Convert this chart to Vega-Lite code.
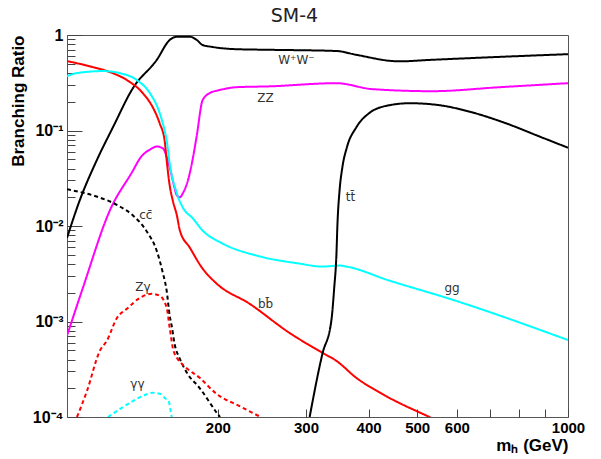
{
  "$schema": "https://vega.github.io/schema/vega-lite/v6.json",
  "autosize": {"type": "none"},
  "padding": {"left": 67, "top": 35, "right": 33, "bottom": 42},
  "width": 501,
  "height": 382,
  "background": "white",
  "title": {"text": "SM-4", "font": "DejaVu Sans", "fontSize": 19, "fontWeight": "normal", "anchor": "middle", "frame": "group", "dx": -23, "offset": 1, "color": "#222"},
  "config": {"view": {"stroke": "#555", "strokeWidth": 1}},
  "datasets": {
    "curves": [
      {"p": "WW", "m": 100, "br": 0.0075}, {"p": "WW", "m": 106, "br": 0.0185}, {"p": "WW", "m": 114.7, "br": 0.049}, {"p": "WW", "m": 123.5, "br": 0.108}, {"p": "WW", "m": 135.4, "br": 0.278}, {"p": "WW", "m": 151, "br": 0.547}, {"p": "WW", "m": 160.3, "br": 0.886}, {"p": "WW", "m": 165.7, "br": 0.96}, {"p": "WW", "m": 175.8, "br": 0.96}, {"p": "WW", "m": 181.6, "br": 0.886}, {"p": "WW", "m": 186.5, "br": 0.785}, {"p": "WW", "m": 195, "br": 0.75}, {"p": "WW", "m": 218, "br": 0.71}, {"p": "WW", "m": 254, "br": 0.70}, {"p": "WW", "m": 345, "br": 0.68}, {"p": "WW", "m": 378, "br": 0.62}, {"p": "WW", "m": 460, "br": 0.53}, {"p": "WW", "m": 536, "br": 0.55}, {"p": "WW", "m": 730, "br": 0.59}, {"p": "WW", "m": 1000, "br": 0.63},
      {"p": "ZZ", "m": 100, "br": 0.00071}, {"p": "ZZ", "m": 107.6, "br": 0.00226}, {"p": "ZZ", "m": 121.8, "br": 0.0146}, {"p": "ZZ", "m": 135.4, "br": 0.038}, {"p": "ZZ", "m": 139.8, "br": 0.051}, {"p": "ZZ", "m": 147, "br": 0.064}, {"p": "ZZ", "m": 151, "br": 0.068}, {"p": "ZZ", "m": 155.3, "br": 0.065}, {"p": "ZZ", "m": 160.3, "br": 0.041}, {"p": "ZZ", "m": 163.5, "br": 0.0266}, {"p": "ZZ", "m": 165.7, "br": 0.0209}, {"p": "ZZ", "m": 168, "br": 0.020}, {"p": "ZZ", "m": 170.3, "br": 0.022}, {"p": "ZZ", "m": 175.8, "br": 0.0356}, {"p": "ZZ", "m": 178.3, "br": 0.051}, {"p": "ZZ", "m": 181.6, "br": 0.089}, {"p": "ZZ", "m": 186.5, "br": 0.208}, {"p": "ZZ", "m": 192.6, "br": 0.246}, {"p": "ZZ", "m": 201.6, "br": 0.265}, {"p": "ZZ", "m": 218, "br": 0.284}, {"p": "ZZ", "m": 254, "br": 0.29}, {"p": "ZZ", "m": 345, "br": 0.313}, {"p": "ZZ", "m": 407, "br": 0.271}, {"p": "ZZ", "m": 536, "br": 0.258}, {"p": "ZZ", "m": 730, "br": 0.284}, {"p": "ZZ", "m": 1000, "br": 0.313},
      {"p": "bb", "m": 100, "br": 0.533}, {"p": "bb", "m": 112.7, "br": 0.461}, {"p": "bb", "m": 121.8, "br": 0.409}, {"p": "bb", "m": 131.7, "br": 0.337}, {"p": "bb", "m": 141.7, "br": 0.246}, {"p": "bb", "m": 148.3, "br": 0.175}, {"p": "bb", "m": 153.1, "br": 0.119}, {"p": "bb", "m": 156.6, "br": 0.079}, {"p": "bb", "m": 158.1, "br": 0.0487}, {"p": "bb", "m": 160.3, "br": 0.0266}, {"p": "bb", "m": 162.6, "br": 0.0185}, {"p": "bb", "m": 165.7, "br": 0.0129}, {"p": "bb", "m": 168, "br": 0.00897}, {"p": "bb", "m": 175.8, "br": 0.00595}, {"p": "bb", "m": 186.5, "br": 0.00358}, {"p": "bb", "m": 199, "br": 0.00249}, {"p": "bb", "m": 231.6, "br": 0.00153}, {"p": "bb", "m": 278, "br": 0.00076}, {"p": "bb", "m": 323.5, "br": 0.00047}, {"p": "bb", "m": 345, "br": 0.000387}, {"p": "bb", "m": 378, "br": 0.000257}, {"p": "bb", "m": 426, "br": 0.000174}, {"p": "bb", "m": 529, "br": 0.0001}, {"p": "bb", "m": 545, "br": 0.000093},
      {"p": "gg", "m": 100, "br": 0.371}, {"p": "gg", "m": 104.7, "br": 0.399}, {"p": "gg", "m": 118, "br": 0.419}, {"p": "gg", "m": 127.5, "br": 0.399}, {"p": "gg", "m": 137.9, "br": 0.337}, {"p": "gg", "m": 146.4, "br": 0.246}, {"p": "gg", "m": 153.1, "br": 0.152}, {"p": "gg", "m": 156.6, "br": 0.1}, {"p": "gg", "m": 158.1, "br": 0.079}, {"p": "gg", "m": 160.3, "br": 0.0453}, {"p": "gg", "m": 165.7, "br": 0.0219}, {"p": "gg", "m": 170.3, "br": 0.0156}, {"p": "gg", "m": 178.3, "br": 0.012}, {"p": "gg", "m": 186.5, "br": 0.00897}, {"p": "gg", "m": 204.4, "br": 0.00655}, {"p": "gg", "m": 239, "br": 0.0049}, {"p": "gg", "m": 291, "br": 0.00404}, {"p": "gg", "m": 323.5, "br": 0.00376}, {"p": "gg", "m": 350, "br": 0.00385}, {"p": "gg", "m": 361, "br": 0.00376}, {"p": "gg", "m": 440, "br": 0.00268}, {"p": "gg", "m": 580, "br": 0.00173}, {"p": "gg", "m": 1000, "br": 0.00064},
      {"p": "tt", "m": 305, "br": 0.0001}, {"p": "tt", "m": 323.5, "br": 0.00046}, {"p": "tt", "m": 337, "br": 0.00102}, {"p": "tt", "m": 341.5, "br": 0.00226}, {"p": "tt", "m": 345, "br": 0.0051}, {"p": "tt", "m": 346.5, "br": 0.0101}, {"p": "tt", "m": 350, "br": 0.0236}, {"p": "tt", "m": 354.5, "br": 0.0411}, {"p": "tt", "m": 362, "br": 0.0667}, {"p": "tt", "m": 378, "br": 0.108}, {"p": "tt", "m": 401, "br": 0.152}, {"p": "tt", "m": 440, "br": 0.184}, {"p": "tt", "m": 483, "br": 0.193}, {"p": "tt", "m": 554, "br": 0.184}, {"p": "tt", "m": 643, "br": 0.155}, {"p": "tt", "m": 752, "br": 0.119}, {"p": "tt", "m": 875, "br": 0.087}, {"p": "tt", "m": 1000, "br": 0.066},
      {"p": "cc", "m": 100, "br": 0.0242}, {"p": "cc", "m": 112.7, "br": 0.0209}, {"p": "cc", "m": 127.5, "br": 0.016}, {"p": "cc", "m": 135.4, "br": 0.0129}, {"p": "cc", "m": 144.3, "br": 0.00875}, {"p": "cc", "m": 151, "br": 0.00553}, {"p": "cc", "m": 155.3, "br": 0.00325}, {"p": "cc", "m": 158.1, "br": 0.0021}, {"p": "cc", "m": 160.3, "br": 0.00115}, {"p": "cc", "m": 161.8, "br": 0.0009}, {"p": "cc", "m": 164, "br": 0.00058}, {"p": "cc", "m": 168, "br": 0.000406}, {"p": "cc", "m": 173.5, "br": 0.00029}, {"p": "cc", "m": 184, "br": 0.000201}, {"p": "cc", "m": 200, "br": 0.000107}, {"p": "cc", "m": 202, "br": 0.0001},
      {"p": "Zγ", "m": 104.7, "br": 0.0001}, {"p": "Zγ", "m": 109.6, "br": 0.000187}, {"p": "Zγ", "m": 116.3, "br": 0.000493}, {"p": "Zγ", "m": 120.1, "br": 0.000628}, {"p": "Zγ", "m": 125.8, "br": 0.00109}, {"p": "Zγ", "m": 131.7, "br": 0.00136}, {"p": "Zγ", "m": 139.8, "br": 0.00177}, {"p": "Zγ", "m": 147.7, "br": 0.00195}, {"p": "Zγ", "m": 153.1, "br": 0.00186}, {"p": "Zγ", "m": 158.1, "br": 0.00139}, {"p": "Zγ", "m": 160.3, "br": 0.00086}, {"p": "Zγ", "m": 162.6, "br": 0.00053}, {"p": "Zγ", "m": 165.7, "br": 0.000417}, {"p": "Zγ", "m": 169.6, "br": 0.00036}, {"p": "Zγ", "m": 184, "br": 0.000257}, {"p": "Zγ", "m": 199, "br": 0.000174}, {"p": "Zγ", "m": 221, "br": 0.00013}, {"p": "Zγ", "m": 242, "br": 0.000102}, {"p": "Zγ", "m": 244, "br": 0.0001},
      {"p": "γγ", "m": 120.7, "br": 0.0001}, {"p": "γγ", "m": 127.5, "br": 0.000121}, {"p": "γγ", "m": 135.4, "br": 0.000147}, {"p": "γγ", "m": 143, "br": 0.00017}, {"p": "γγ", "m": 148.3, "br": 0.000179}, {"p": "γγ", "m": 153.1, "br": 0.000175}, {"p": "γγ", "m": 157.4, "br": 0.000155}, {"p": "γγ", "m": 159.5, "br": 0.000147}, {"p": "γγ", "m": 161, "br": 0.000116}, {"p": "γγ", "m": 161.8, "br": 0.0001}
    ],
    "labels": [
      {"t": "W⁺W⁻", "m": 287, "br": 0.547},
      {"t": "ZZ", "m": 249, "br": 0.218},
      {"t": "tt̄", "m": 368, "br": 0.02},
      {"t": "gg", "m": 587, "br": 0.00226},
      {"t": "bb̄", "m": 249, "br": 0.00153},
      {"t": "cc̄", "m": 143.6, "br": 0.0129},
      {"t": "Zγ", "m": 141.7, "br": 0.00232},
      {"t": "γγ", "m": 138.2, "br": 0.000222}
    ]
  },
  "resolve": {"axis": {"x": "independent", "y": "independent"}},
  "layer": [
    {
      "data": {"name": "curves"},
      "mark": {"type": "line", "strokeWidth": 2, "clip": true, "interpolate": "monotone"},
      "encoding": {
        "x": {"field": "m", "type": "quantitative", "scale": {"type": "log", "domain": [100, 1000], "nice": false},
          "axis": {"orient": "bottom", "values": [200, 300, 400, 500, 600, 1000], "format": "d", "ticks": false, "domain": false, "grid": false, "labelFlush": false, "labelOverlap": false, "labelFont": "Liberation Sans", "labelFontWeight": "bold", "labelFontSize": 15, "labelColor": "#000", "labelPadding": 3, "title": "mₕ (GeV)", "titleFont": "Liberation Sans", "titleFontWeight": "bold", "titleFontSize": 17, "titleColor": "#000", "titleAnchor": "end", "titlePadding": 2}},
        "y": {"field": "br", "type": "quantitative", "scale": {"type": "log", "domain": [0.0001, 1], "nice": false},
          "axis": {"orient": "left", "values": [0.0001, 0.001, 0.01, 0.1, 1], "labelExpr": "datum.value >= 0.5 ? '1' : datum.value >= 0.05 ? '10⁻¹' : datum.value >= 0.005 ? '10⁻²' : datum.value >= 0.0005 ? '10⁻³' : '10⁻⁴'", "ticks": false, "domain": false, "grid": false, "labelFlush": false, "labelOverlap": false, "labelFont": "Liberation Sans", "labelFontWeight": "bold", "labelFontSize": 16, "labelColor": "#000", "labelPadding": 4, "title": "Branching Ratio", "titleFont": "Liberation Sans", "titleFontWeight": "bold", "titleFontSize": 17, "titleColor": "#000", "titleAnchor": "end", "titlePadding": 5}},
        "color": {"field": "p", "type": "nominal", "legend": null, "scale": {"domain": ["WW", "ZZ", "bb", "gg", "tt", "cc", "Zγ", "γγ"], "range": ["#000000", "#ff00ff", "#ff0000", "#00ffff", "#000000", "#000000", "#ff0000", "#00ffff"]}},
        "strokeDash": {"field": "p", "type": "nominal", "legend": null, "scale": {"domain": ["WW", "ZZ", "bb", "gg", "tt", "cc", "Zγ", "γγ"], "range": [[1, 0], [1, 0], [1, 0], [1, 0], [1, 0], [4, 3], [4, 3], [4, 3]]}}
      }
    },
    {
      "data": {"name": "labels"},
      "mark": {"type": "text", "font": "DejaVu Sans", "fontSize": 12, "color": "#333", "align": "center", "baseline": "middle"},
      "encoding": {
        "x": {"field": "m", "type": "quantitative", "scale": {"type": "log", "domain": [100, 1000], "nice": false},
          "axis": {"orient": "bottom", "offset": -8, "values": [200, 300, 400, 500, 600, 700, 800, 900, 1000], "labels": false, "tickSize": 8, "tickColor": "#444", "tickWidth": 1, "domain": false, "grid": false, "title": null}},
        "y": {"field": "br", "type": "quantitative", "scale": {"type": "log", "domain": [0.0001, 1], "nice": false},
          "axis": {"orient": "left", "offset": -15, "values": [0.0001, 0.001, 0.01, 0.1, 1], "labels": false, "tickSize": 15, "tickColor": "#444", "tickWidth": 1, "domain": false, "grid": false, "title": null}},
        "text": {"field": "t", "type": "nominal"}
      }
    },
    {
      "data": {"name": "labels"},
      "mark": {"type": "point", "opacity": 0},
      "encoding": {
        "x": {"field": "m", "type": "quantitative", "scale": {"type": "log", "domain": [100, 1000], "nice": false}, "axis": null},
        "y": {"field": "br", "type": "quantitative", "scale": {"type": "log", "domain": [0.0001, 1], "nice": false},
          "axis": {"orient": "left", "offset": -8, "values": [0.0002, 0.0003, 0.0004, 0.0005, 0.0006, 0.0007, 0.0008, 0.0009, 0.002, 0.003, 0.004, 0.005, 0.006, 0.007, 0.008, 0.009, 0.02, 0.03, 0.04, 0.05, 0.06, 0.07, 0.08, 0.09, 0.2, 0.3, 0.4, 0.5, 0.6, 0.7, 0.8, 0.9], "labels": false, "tickSize": 8, "tickColor": "#444", "tickWidth": 1, "domain": false, "grid": false, "title": null}}
      }
    }
  ]
}
